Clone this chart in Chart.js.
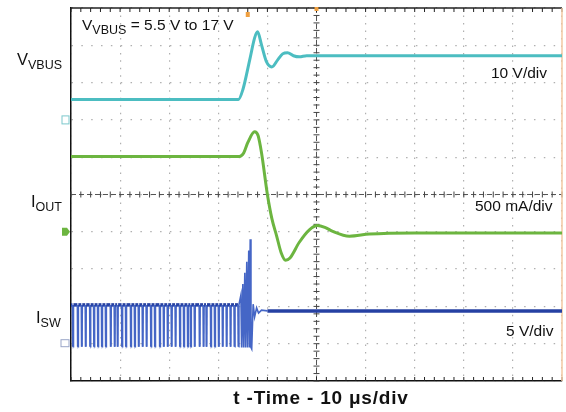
<!DOCTYPE html>
<html><head><meta charset="utf-8">
<script src="https://cdn.jsdelivr.net/npm/chart.js@4.4.1/dist/chart.umd.min.js"></script>
<style>
html,body{margin:0;padding:0;background:#fff;}
#wrap{position:relative;width:566px;height:412px;overflow:hidden;font-family:"Liberation Sans",Arial,sans-serif;color:#111;}
#c{position:absolute;left:0;top:0;}
.lbl{position:absolute;white-space:nowrap;line-height:1;}
.lbl sub{vertical-align:baseline;position:relative;font-size:12.5px;}
</style></head>
<body><div id="wrap"><canvas id="c" width="566" height="412"></canvas>
<div class="lbl" style="left:82px;top:17px;font-size:15.5px">V<sub style="top:4px">VBUS</sub> = 5.5 V to 17 V</div>
<div class="lbl" style="left:17px;top:51px;font-size:16.5px">V<sub style="top:3.5px">VBUS</sub></div>
<div class="lbl" style="left:31px;top:193px;font-size:16.5px">I<sub style="top:3.5px">OUT</sub></div>
<div class="lbl" style="left:36px;top:309px;font-size:16.5px">I<sub style="top:3.5px">SW</sub></div>
<div class="lbl" style="left:491px;top:65px;font-size:15.5px">10 V/div</div>
<div class="lbl" style="left:475px;top:198px;font-size:15.5px">500 mA/div</div>
<div class="lbl" style="left:506px;top:323px;font-size:15.5px">5 V/div</div>
<div class="lbl" style="left:171px;width:300px;text-align:center;top:388px;font-size:19px;letter-spacing:0.8px;font-weight:bold">t -Time - 10 &#956;s/div</div>
</div>
<script>
// time axis: microseconds (10 µs/div, 10 divisions)
const timeTicks = [0, 10, 20, 30, 40, 50, 60, 70, 80, 90, 100];

// V_VBUS (V), 10 V/div
const vbusT = [0, 34.1, 35.0, 36.4, 37.4, 38.0, 38.8, 39.8, 40.9, 42.1, 43.1, 44.1, 45.3, 46.5, 48.0, 100];
const vbusV = [5.5, 5.5, 8.1, 16.1, 22.0, 23.6, 20.1, 15.6, 14.2, 16.1, 17.7, 18.0, 17.2, 16.9, 17.2, 17.2];

// I_OUT (mA), 500 mA/div
const ioutT  = [0, 34.3, 35.2, 36.0, 37.4, 38.1, 38.8, 40.0, 40.9, 41.9, 42.8, 43.7, 44.6, 46.5, 48.6, 50.2, 51.7, 53.3, 56.7, 60.8, 70, 100];
const ioutMA = [1010, 1010, 1060, 1195, 1340, 1290, 1060, 500, 180, -60, -280, -380, -350, -140, 30, 85, 60, 5, -60, -30, -15, -15];

// I_SW (V), 5 V/div
const swLevels = [5.2, -0.4];            // high level, low level of switching dips
const swSpikeT = [0.4, 1.4, 2.2, 3.0, 3.9, 4.7, 5.5, 6.3, 7.1, 8.1, 8.9, 9.5, 10.4, 11.2, 12.2, 13.0, 13.8, 14.6, 15.4, 16.3, 17.1,
                  18.1, 18.9, 19.7, 20.5, 21.3, 22.2, 23.0, 23.8, 24.4, 25.2, 26.2, 27.0, 27.6, 28.5, 29.3, 30.1, 30.9, 31.7, 32.5, 33.3, 34.1];
const swRampT    = [34.6, 35.0, 35.4, 35.8, 36.2, 36.5];
const swRampPeak = [6.5, 8.0, 9.5, 11.0, 12.5, 14.0];
const swRampLow  = -0.5;
const swTailT = [36.8, 37.1, 37.4, 37.8, 38.2, 38.8, 40.0, 100];
const swTailV = [-0.7, 5.3, 3.6, 4.8, 4.1, 4.5, 4.4, 4.4];

const vbusData = vbusT.map((t, i) => ({x: t, y: vbusV[i]}));
const ioutData = ioutT.map((t, i) => ({x: t, y: ioutMA[i]}));
const swData = [{x: 0, y: swLevels[0]}];
swSpikeT.forEach(t => {
  swData.push({x: t - 0.1, y: swLevels[0]}, {x: t - 0.04, y: swLevels[1]}, {x: t + 0.04, y: swLevels[1]}, {x: t + 0.1, y: swLevels[0]});
});
swRampT.forEach((t, i) => { swData.push({x: t, y: swRampPeak[i]}, {x: t + 0.15, y: swRampLow}); });
swTailT.forEach((t, i) => swData.push({x: t, y: swTailV[i]}));

const scopeDecor = {
  id: 'scopeDecor',
  beforeDatasetsDraw(chart) {
    const {ctx, chartArea: a, scales} = chart;
    const x = scales.x, y = scales.yV;
    const xc = x.getPixelForValue(50), yc = y.getPixelForValue(-20);
    const dx = (x.getPixelForValue(10) - x.getPixelForValue(0)) / 5;
    const dy = (y.getPixelForValue(-70) - y.getPixelForValue(-60)) / 5;
    ctx.save();
    // center dashed axes
    ctx.strokeStyle = '#555'; ctx.lineWidth = 1; ctx.setLineDash([5, 3]);
    ctx.beginPath(); ctx.moveTo(a.left, yc); ctx.lineTo(a.right, yc); ctx.moveTo(xc, a.top); ctx.lineTo(xc, a.bottom); ctx.stroke();
    ctx.setLineDash([]);
    ctx.strokeStyle = '#444';
    ctx.beginPath();
    for (let px = a.left; px <= a.right + 0.5; px += dx) { ctx.moveTo(px, yc - 3); ctx.lineTo(px, yc + 3); }
    for (let py = a.top; py <= a.bottom + 0.5; py += dy) { ctx.moveTo(xc - 3, py); ctx.lineTo(xc + 3, py); }
    ctx.stroke();
    // top & bottom border rulers
    ctx.strokeStyle = '#222'; ctx.lineWidth = 1.5;
    ctx.beginPath(); ctx.moveTo(a.left, a.top); ctx.lineTo(a.right, a.top); ctx.stroke();
    ctx.lineWidth = 1;
    ctx.beginPath();
    for (let px = a.left; px <= a.right + 0.5; px += dx) {
      ctx.moveTo(px, a.top); ctx.lineTo(px, a.top + 4);
      ctx.moveTo(px, a.bottom); ctx.lineTo(px, a.bottom - 4);
    }
    ctx.stroke();
    // right border (faint orange)
    ctx.strokeStyle = '#f3c9a2'; ctx.lineWidth = 1.5;
    ctx.beginPath(); ctx.moveTo(a.right, a.top); ctx.lineTo(a.right, a.bottom); ctx.stroke();
    // trigger markers
    ctx.fillStyle = '#f0a040';
    ctx.fillRect(x.getPixelForValue(36) - 2, a.top + 4, 4, 5);
    ctx.fillRect(xc - 2, a.top - 1, 4, 4);
    // channel ground markers
    const gV = scales.yV.getPixelForValue(0), gI = scales.yI.getPixelForValue(0), gS = scales.yS.getPixelForValue(0);
    ctx.strokeStyle = '#7cc8cc'; ctx.lineWidth = 1;
    ctx.strokeRect(a.left - 9, gV - 4, 7, 8);
    ctx.fillStyle = '#6cb540';
    ctx.beginPath(); ctx.moveTo(a.left - 9, gI - 4); ctx.lineTo(a.left - 4, gI - 4); ctx.lineTo(a.left - 1, gI); ctx.lineTo(a.left - 4, gI + 4); ctx.lineTo(a.left - 9, gI + 4); ctx.closePath(); ctx.fill();
    ctx.strokeStyle = '#9aa6c8';
    ctx.strokeRect(a.left - 10, gS - 4, 8, 7);
    ctx.restore();
  }
};

new Chart(document.getElementById('c'), {
  type: 'line',
  data: {
    datasets: [
      {label: 'VVBUS', data: vbusData, yAxisID: 'yV', borderColor: '#4cbdc1', borderWidth: 3, pointRadius: 0, cubicInterpolationMode: 'monotone'},
      {label: 'IOUT', data: ioutData, yAxisID: 'yI', borderColor: '#6cb540', borderWidth: 3, pointRadius: 0, cubicInterpolationMode: 'monotone'},
      {label: 'ISW', data: swData, yAxisID: 'yS', borderColor: '#2641a3', borderWidth: 1.6, pointRadius: 0, tension: 0,
       segment: {
         borderWidth: c => (c.p0.parsed.y === c.p1.parsed.y ? 3.5 : 1.6),
         borderColor: c => (c.p0.parsed.y === c.p1.parsed.y ? '#2641a3' : '#4566c6')
       }}
    ]
  },
  options: {
    responsive: false, animation: false, devicePixelRatio: 1,
    layout: {padding: {left: 71, right: 4, top: 8, bottom: 31}},
    plugins: {legend: {display: false}, tooltip: {enabled: false}},
    scales: {
      x: {type: 'linear', min: 0, max: 100, afterBuildTicks: s => { s.ticks = timeTicks.map(v => ({value: v})); },
          ticks: {display: false}, grid: {color: '#b0b0b0', lineWidth: 1.2, drawTicks: false},
          border: {display: true, color: '#111', width: 1.5, dash: [1.5, 5.98]}},
      yV: {type: 'linear', position: 'left', min: -70, max: 30, ticks: {display: false, stepSize: 10},
           grid: {color: '#b0b0b0', lineWidth: 1.2, drawTicks: false},
           border: {display: true, color: '#111', width: 1.5, dash: [1.5, 8.34]}},
      yI: {type: 'linear', display: false, min: -2000, max: 3000},
      yS: {type: 'linear', display: false, min: -5, max: 45}
    }
  },
  plugins: [scopeDecor]
});
</script>
</body></html>
